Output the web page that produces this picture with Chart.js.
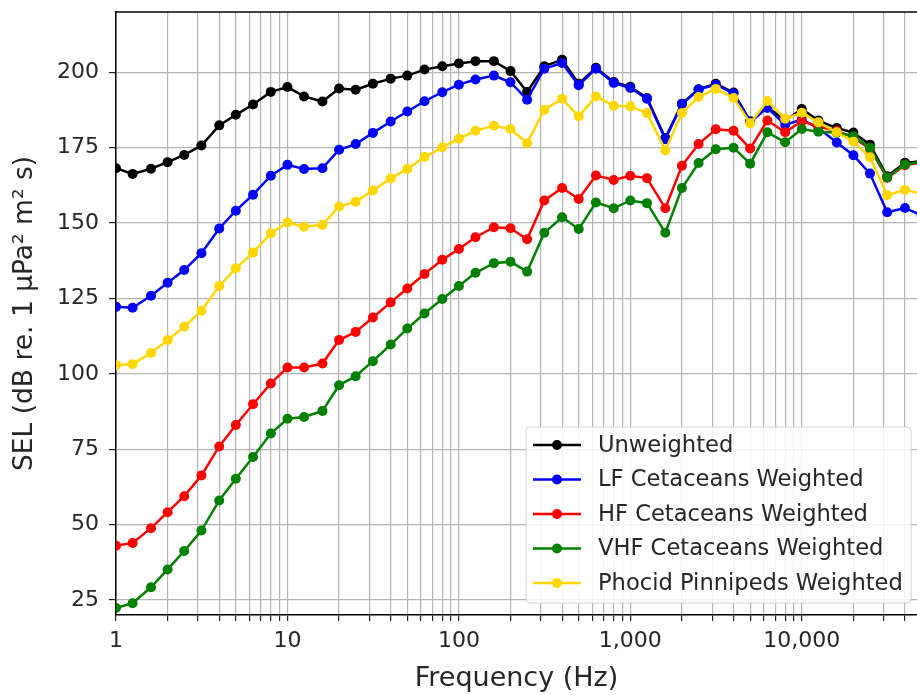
<!DOCTYPE html>
<html>
<head>
<meta charset="utf-8">
<script src="https://cdn.jsdelivr.net/npm/chart.js@4.4.0/dist/chart.umd.min.js"></script>
<style>
  html, body { margin: 0; padding: 0; background: #fff; overflow: hidden; }
  #wrap { width: 917px; height: 695px; overflow: hidden; }
  #selChart { display: block; }
</style>
</head>
<body>
<!-- canvas is a few px wider than the window so the plot runs off the right edge like the original -->
<div id="wrap"><canvas id="selChart" width="922" height="695"></canvas></div>
<script>
// 1/3 octave band centre frequencies (Hz)
const frequencies = [1, 1.25, 1.6, 2, 2.5, 3.15, 4, 5, 6.3, 8, 10, 12.5, 16, 20, 25, 31.5, 40, 50, 63, 80,
    100, 125, 160, 200, 250, 315, 400, 500, 630, 800, 1000, 1250, 1600, 2000, 2500, 3150, 4000, 5000, 6300, 8000,
    10000, 12500, 16000, 20000, 25000, 31500, 40000, 50000];

const unweighted = [168.2, 166.3, 168, 170.2, 172.6, 175.7, 182.4, 185.9, 189.3, 193.5, 195.1, 192, 190.3, 194.6, 194.2, 196.2, 197.9, 198.9, 200.9, 202,
    202.9, 203.7, 203.7, 200.4, 193.5, 202, 204.2, 196.2, 201.5, 196.8, 195.2, 191.5, 178.2, 189.6, 194.4, 196.2, 193.3, 183.8, 188.5, 184,
    187.8, 184, 181.5, 180, 176, 165.5, 170, 170.5];

const lfCetaceans = [122.2, 121.9, 125.9, 130.2, 134.4, 140, 148.2, 154.1, 159.4, 165.7, 169.3, 167.9, 168.2, 174.3, 176.2, 179.9, 183.7, 187, 190.4, 193.4,
    195.9, 197.6, 198.9, 196.7, 190.9, 201.2, 203.1, 195.7, 201.2, 196.5, 194.8, 191.2, 177.8, 189.5, 194.3, 195.9, 193, 183.5, 188.2, 182.6,
    184.3, 181.5, 176.7, 172.5, 166.4, 153.6, 155, 152.5];

const hfCetaceans = [43, 43.9, 48.8, 54.1, 59.4, 66.3, 75.9, 83, 89.9, 96.8, 102.1, 102.1, 103.4, 111.2, 113.9, 118.7, 123.7, 128.3, 133.1, 137.8,
    141.4, 145.3, 148.6, 148.3, 144.6, 157.5, 161.6, 158, 165.8, 164.3, 165.7, 164.9, 154.9, 169, 176.2, 181.1, 180.6, 174.7, 184, 180.1,
    183.8, 182, 180.5, 178.5, 174.6, 165, 169.2, 170.1];

const vhfCetaceans = [22.3, 23.9, 29.2, 35.1, 41.2, 48, 58, 65.2, 72.4, 80.2, 85.1, 85.7, 87.7, 96.2, 99.2, 104.2, 109.7, 115, 120, 124.8,
    129.1, 133.5, 136.7, 137.2, 133.9, 146.8, 151.9, 148, 156.8, 154.9, 157.5, 156.6, 146.8, 161.6, 169.9, 174.5, 175, 169.7, 180.1, 176.8,
    181.2, 180.3, 180, 178.8, 175, 165.1, 169.4, 170.2];

const phocidPinnipeds = [102.9, 103.2, 106.9, 111.2, 115.6, 120.9, 129.1, 135, 140.2, 146.6, 150.2, 148.8, 149.4, 155.5, 157.1, 160.8, 164.8, 167.9, 171.9, 175.1,
    178, 180.6, 182.3, 181.2, 176.5, 187.6, 191.2, 185.4, 192, 188.9, 188.7, 186.5, 174.1, 186.5, 191.8, 194.5, 191.5, 183.1, 190.5, 184.6,
    186.6, 183.4, 180.1, 177, 171.8, 159.2, 161, 159.8];

const seriesNames = ['Unweighted', 'LF Cetaceans Weighted', 'HF Cetaceans Weighted', 'VHF Cetaceans Weighted', 'Phocid Pinnipeds Weighted'];
const seriesColors = ['#000000', '#0000ff', '#ff0000', '#008000', '#ffd700'];

const xLabelValues = [1, 10, 100, 1000, 10000];
const yTickValues = [25, 50, 75, 100, 125, 150, 175, 200];

const FONT = 'DejaVu Sans';
const TEXT = '#262626';
const VIEW_RIGHT = 917;

function makeDataset(i, values) {
    return {
        label: seriesNames[i],
        data: frequencies.map((f, k) => ({ x: f, y: values[k] })),
        borderColor: seriesColors[i],
        backgroundColor: seriesColors[i],
        borderWidth: 2.5,
        pointRadius: 5,
        pointBorderWidth: 0,
        pointBackgroundColor: seriesColors[i],
        tension: 0,
        order: 5 - i // later series drawn on top, like matplotlib
    };
}

// log-scale grid: 1..9 x 10^k
function logTicks(min, max) {
    const ticks = [];
    for (let p = 1; p <= 1e5; p *= 10) {
        for (let m = 1; m < 10; m++) {
            const v = m * p;
            if (v >= min && v <= max) ticks.push({ value: v });
        }
    }
    return ticks;
}

const frame = {
    id: 'frame',
    afterDraw(chart) {
        const { ctx, chartArea } = chart;
        ctx.save();
        ctx.strokeStyle = '#000';
        ctx.lineWidth = 1.5;
        ctx.beginPath();
        ctx.moveTo(chartArea.left, chartArea.top);
        ctx.lineTo(chartArea.right, chartArea.top);
        ctx.stroke();
        ctx.restore();
    }
};

// matplotlib-like legend box inside the plot, lower right
const insideLegend = {
    id: 'insideLegend',
    afterDraw(chart) {
        const { ctx, chartArea } = chart;
        const sets = chart.data.datasets;
        const rowH = 34.5;
        const boxW = 385, boxH = 176;
        const x0 = Math.min(chartArea.right, VIEW_RIGHT) - 6 - boxW;
        const y0 = chartArea.bottom - 12 - boxH;
        ctx.save();
        ctx.fillStyle = 'rgba(255,255,255,0.85)';
        ctx.strokeStyle = '#d0d0d0';
        ctx.lineWidth = 1;
        ctx.beginPath();
        ctx.roundRect(x0, y0, boxW, boxH, 4);
        ctx.fill();
        ctx.stroke();
        ctx.font = '22.6px "' + FONT + '"';
        ctx.textBaseline = 'middle';
        sets.forEach((ds, i) => {
            const cy = y0 + 18 + i * rowH;
            ctx.strokeStyle = ds.borderColor;
            ctx.lineWidth = 2.5;
            ctx.beginPath();
            ctx.moveTo(x0 + 7, cy);
            ctx.lineTo(x0 + 55, cy);
            ctx.stroke();
            ctx.fillStyle = ds.borderColor;
            ctx.beginPath();
            ctx.arc(x0 + 31, cy, 5, 0, Math.PI * 2);
            ctx.fill();
            ctx.fillStyle = TEXT;
            ctx.fillText(ds.label, x0 + 72, cy + 1);
        });
        ctx.restore();
    }
};

new Chart(document.getElementById('selChart'), {
    type: 'line',
    data: {
        datasets: [
            makeDataset(0, unweighted),
            makeDataset(1, lfCetaceans),
            makeDataset(2, hfCetaceans),
            makeDataset(3, vhfCetaceans),
            makeDataset(4, phocidPinnipeds)
        ]
    },
    options: {
        responsive: false,
        animation: false,
        devicePixelRatio: 1,
        layout: { padding: { top: 12, right: 0, left: 0, bottom: 0 } },
        plugins: {
            legend: { display: false },
            tooltip: { enabled: false }
        },
        scales: {
            x: {
                type: 'logarithmic',
                min: 1,
                max: 47000,
                afterBuildTicks: scale => { scale.ticks = logTicks(scale.min, scale.max); },
                afterFit: scale => {
                    scale.height = 80;
                    scale.paddingLeft = 0;
                    scale.paddingRight = 0;
                },
                grid: { color: '#b4b4b4', lineWidth: 1.2, tickLength: 6, tickColor: '#222' },
                border: { color: '#000', width: 1.5 },
                ticks: {
                    autoSkip: false,
                    maxRotation: 0,
                    padding: 7,
                    color: TEXT,
                    font: { family: FONT, size: 22 },
                    callback: value => xLabelValues.includes(value) ? value.toLocaleString('en-US') : ''
                },
                title: {
                    display: true,
                    text: 'Frequency (Hz)',
                    color: TEXT,
                    font: { family: FONT, size: 27 },
                    padding: { top: 0, bottom: 0 }
                }
            },
            y: {
                min: 20,
                max: 220,
                afterBuildTicks: scale => { scale.ticks = yTickValues.map(v => ({ value: v })); },
                afterFit: scale => {
                    scale.width = 116;
                    scale.paddingTop = 0;
                    scale.paddingBottom = 0;
                },
                grid: { color: '#b4b4b4', lineWidth: 1.2, tickLength: 7, tickColor: '#222' },
                border: { color: '#000', width: 1.5 },
                ticks: {
                    padding: 10,
                    color: TEXT,
                    font: { family: FONT, size: 22 }
                },
                title: {
                    display: true,
                    text: 'SEL (dB re. 1 µPa² m² s)',
                    color: TEXT,
                    font: { family: FONT, size: 26.5 },
                    padding: { top: 9, bottom: 0 }
                }
            }
        }
    },
    plugins: [frame, insideLegend]
});
</script>
</body>
</html>
